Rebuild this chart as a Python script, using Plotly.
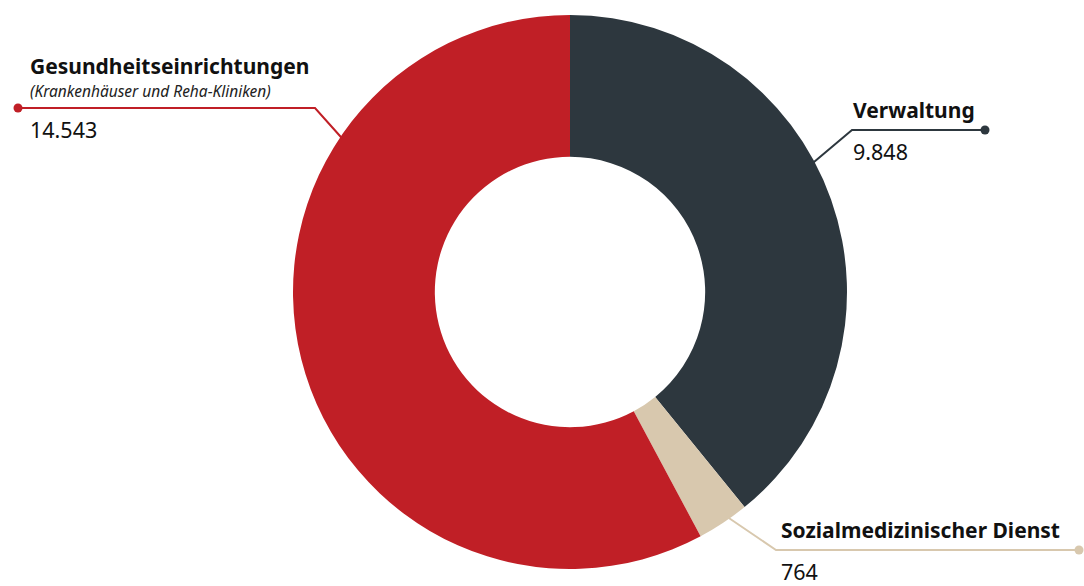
import math
import plotly.graph_objects as go

# ---- data ----
categories = ["Verwaltung", "Sozialmedizinischer Dienst", "Gesundheitseinrichtungen"]
values = [9848, 764, 14543]
value_labels = ["9.848", "764", "14.543"]
subtitles = ["", "", "(Krankenhäuser und Reha-Kliniken)"]
colors = ["#2D373E", "#D8C8AE", "#C01F26"]

W, H = 1084, 586
CX, CY, R = 570, 292, 277

def px(x):
    return x / W

def py(y):
    return 1 - y / H

fig = go.Figure(go.Pie(
    labels=categories,
    values=values,
    sort=False,
    direction="clockwise",
    rotation=0,
    hole=0.488,
    marker=dict(colors=colors, line=dict(width=0)),
    textinfo="none",
    hoverinfo="label+value",
    showlegend=False,
    domain=dict(x=[px(CX - R), px(CX + R)], y=[py(CY + R), py(CY - R)]),
))

# label layout: (angle on ring in deg from top clockwise, elbow x, line y, dot x, text x)
layout_pos = {
    "Verwaltung": (62, 852, 130, 985, 851),
    "Sozialmedizinischer Dienst": (145, 776, 550, 1079, 779),
    "Gesundheitseinrichtungen": (304, 315, 108, 18, 28),
}

FONT = "Noto Sans"
shapes = []
annotations = []
for cat, val, sub, col in zip(categories, value_labels, subtitles, colors):
    ang, ex, ly, dx, tx = layout_pos[cat]
    a = math.radians(ang)
    rx = CX + (R - 2) * math.sin(a)
    ry = CY - (R - 2) * math.cos(a)
    path = f"M {px(rx)} {py(ry)} L {px(ex)} {py(ly)} L {px(dx)} {py(ly)}"
    shapes.append(dict(type="path", xref="paper", yref="paper", path=path,
                       line=dict(color=col, width=2)))
    shapes.append(dict(type="circle", xref="paper", yref="paper",
                       x0=px(dx - 4.5), x1=px(dx + 4.5), y0=py(ly + 4.5), y1=py(ly - 4.5),
                       fillcolor=col, line=dict(width=0)))
    title_bottom = ly - (26 if sub else 4)
    annotations.append(dict(xref="paper", yref="paper", x=px(tx), y=py(title_bottom),
                            xanchor="left", yanchor="bottom", showarrow=False,
                            text=f"<b>{cat}</b>",
                            font=dict(family=FONT, size=21, color="#111111")))
    if sub:
        annotations.append(dict(xref="paper", yref="paper", x=px(tx), y=py(ly - 4),
                                xanchor="left", yanchor="bottom", showarrow=False,
                                text=f"<i>{sub}</i>",
                                font=dict(family=FONT, size=15.5, color="#222222")))
    annotations.append(dict(xref="paper", yref="paper", x=px(tx + 1), y=py(ly + 6),
                            xanchor="left", yanchor="top", showarrow=False,
                            borderpad=0,
                            text=val,
                            font=dict(family=FONT, size=21.5, color="#111111")))

fig.update_layout(
    width=W, height=H,
    margin=dict(l=0, r=0, t=0, b=0),
    paper_bgcolor="white",
    plot_bgcolor="white",
    shapes=shapes,
    annotations=annotations,
)

fig.write_html("out.html")
